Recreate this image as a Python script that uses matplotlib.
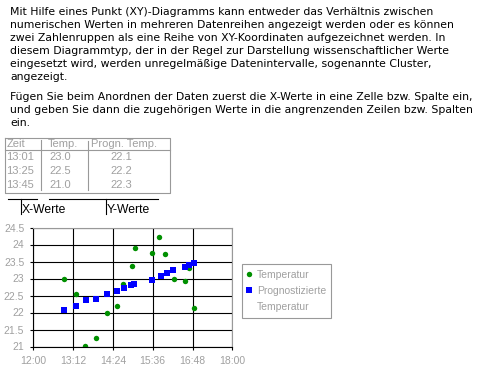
import matplotlib

matplotlib.use("Agg")
import matplotlib.pyplot as plt
from matplotlib.lines import Line2D

# intro text, one entry per rendered line
PARA_1 = [
    "Mit Hilfe eines Punkt (XY)-Diagramms kann entweder das Verhältnis zwischen",
    "numerischen Werten in mehreren Datenreihen angezeigt werden oder es können",
    "zwei Zahlenruppen als eine Reihe von XY-Koordinaten aufgezeichnet werden. In",
    "diesem Diagrammtyp, der in der Regel zur Darstellung wissenschaftlicher Werte",
    "eingesetzt wird, werden unregelmäßige Datenintervalle, sogenannte Cluster,",
    "angezeigt.",
]
PARA_2 = [
    "Fügen Sie beim Anordnen der Daten zuerst die X-Werte in eine Zelle bzw. Spalte ein,",
    "und geben Sie dann die zugehörigen Werte in die angrenzenden Zeilen bzw. Spalten",
    "ein.",
]

# small example table
table_header = ["Zeit", "Temp.", "Progn. Temp."]
table_time = ["13:01", "13:25", "13:45"]
table_temp = ["23.0", "22.5", "21.0"]
table_progn = ["22.1", "22.2", "22.3"]

# chart series
temp_time = ["12:55", "13:17", "13:34", "13:53", "14:13", "14:31", "14:42", "14:58",
             "15:04", "15:34", "15:47", "15:59", "16:15", "16:35", "16:42", "16:51"]
temp_values = [23.0, 22.53, 21.02, 21.24, 21.99, 22.2, 22.85, 23.36,
               23.89, 23.74, 24.21, 23.71, 23.0, 22.93, 23.3, 22.12]
progn_time = ["12:56", "13:17", "13:35", "13:53", "14:13", "14:31", "14:44", "14:57",
              "15:02", "15:34", "15:51", "16:02", "16:13", "16:34", "16:42", "16:51"]
progn_values = [22.08, 22.2, 22.36, 22.41, 22.53, 22.62, 22.73, 22.82,
                22.85, 22.97, 23.06, 23.15, 23.24, 23.33, 23.39, 23.45]

x_tick_labels = ["12:00", "13:12", "14:24", "15:36", "16:48", "18:00"]
y_ticks = [21, 21.5, 22, 22.5, 23, 23.5, 24, 24.5]

GREY = "#a0a0a0"
LINE_GREY = "#999999"
GREEN = "#009000"
BLUE = "#0000ff"
CHART_FONT = "Liberation Sans"


def minutes(hhmm: str) -> int:
    h, m = hhmm.split(":")
    return int(h) * 60 + int(m) - 12 * 60


fig = plt.figure(figsize=(5.0, 3.71), dpi=100)

# overlay in pixel coordinates for the text and the table
ov = fig.add_axes([0, 0, 1, 1], zorder=0)
ov.set_xlim(0, 500)
ov.set_ylim(371, 0)
ov.set_axis_off()

for i, line in enumerate(PARA_1):
    ov.text(10, 12 + 13 * i, line, fontsize=7.85, family="DejaVu Sans", va="center")
for i, line in enumerate(PARA_2):
    ov.text(10, 97 + 13 * i, line, fontsize=7.85, family="DejaVu Sans", va="center")

# table frame
lw = 0.8
ov.add_line(Line2D([4.5, 170, 170, 4.5, 4.5], [137.5, 137.5, 192.5, 192.5, 137.5], color=LINE_GREY, lw=lw))
ov.add_line(Line2D([4.5, 170], [149.5, 149.5], color=LINE_GREY, lw=lw))
ov.add_line(Line2D([40.5, 40.5], [140, 190], color=LINE_GREY, lw=lw))
ov.add_line(Line2D([87.5, 87.5], [141, 190], color=LINE_GREY, lw=lw))

col_x = [7, 48, 91]
for x, label in zip(col_x, table_header):
    ov.text(x, 144, label, fontsize=8, family=CHART_FONT, color=GREY, va="center")
for i, (t, a, b) in enumerate(zip(table_time, table_temp, table_progn)):
    y = 157 + 14 * i
    ov.text(6, y, t, fontsize=8, family=CHART_FONT, color=GREY, va="center")
    ov.text(49, y, a, fontsize=8, family=CHART_FONT, color=GREY, va="center")
    ov.text(110, y, b, fontsize=8, family=CHART_FONT, color=GREY, va="center")

# brackets under the table
ov.add_line(Line2D([7.5, 36.5], [198.5, 198.5], color="black", lw=lw))
ov.add_line(Line2D([20.5, 20.5], [198.5, 214], color="black", lw=lw))
ov.add_line(Line2D([48.5, 157.5], [198.5, 198.5], color="black", lw=lw))
ov.add_line(Line2D([105.5, 105.5], [198.5, 214], color="black", lw=lw))
ov.text(21.5, 210, "X-Werte", fontsize=8.7, family=CHART_FONT, va="center")
ov.text(106.5, 210, "Y-Werte", fontsize=8.7, family=CHART_FONT, va="center")

# scatter chart
ax = fig.add_axes([33.3 / 500, 1 - 346.5 / 371, 199 / 500, 119 / 371], zorder=1)
ax.set_facecolor("none")
h_temp, = ax.plot([minutes(t) for t in temp_time], temp_values, "o", color=GREEN,
                  markersize=3.9, markeredgewidth=0)
h_progn, = ax.plot([minutes(t) for t in progn_time], progn_values, "s", color=BLUE,
                   markersize=3.7, markeredgewidth=0)

ax.set_xlim(0, 360)
ax.set_ylim(21, 24.5)
ax.set_xticks([minutes(t) for t in x_tick_labels])
ax.set_xticklabels(x_tick_labels)
ax.set_yticks(y_ticks)
ax.set_yticklabels([f"{v:g}" for v in y_ticks])
ax.set_axisbelow(True)
ax.grid(True, color="black", lw=0.8)
for side in ("left", "bottom"):
    ax.spines[side].set_color("black")
    ax.spines[side].set_linewidth(0.8)
for side in ("top", "right"):
    ax.spines[side].set_color(LINE_GREY)
    ax.spines[side].set_linewidth(0.8)
ax.tick_params(length=2.2, width=0.8, color="black", pad=4.3,
               labelsize=7.5, labelcolor=GREY)
for lab in ax.get_xticklabels() + ax.get_yticklabels():
    lab.set_family(CHART_FONT)

# second line of the long label gets an empty handle so the marker sits on line one
blank = Line2D([], [], linestyle="none", marker=None)
leg = fig.legend([h_temp, h_progn, blank], ["Temperatur", "Prognostizierte", "Temperatur"],
                 loc="upper left", bbox_to_anchor=(241.7 / 500, 1 - 264.3 / 371),
                 borderaxespad=0, borderpad=0.5, handlelength=0.46, handletextpad=0.48,
                 labelspacing=0.62, fancybox=False, framealpha=1, edgecolor=LINE_GREY,
                 markerscale=1.0, prop={"family": CHART_FONT, "size": 7.5})
leg.get_frame().set_linewidth(0.8)
for t in leg.get_texts():
    t.set_color(GREY)

fig.savefig("out.png", dpi=100)
